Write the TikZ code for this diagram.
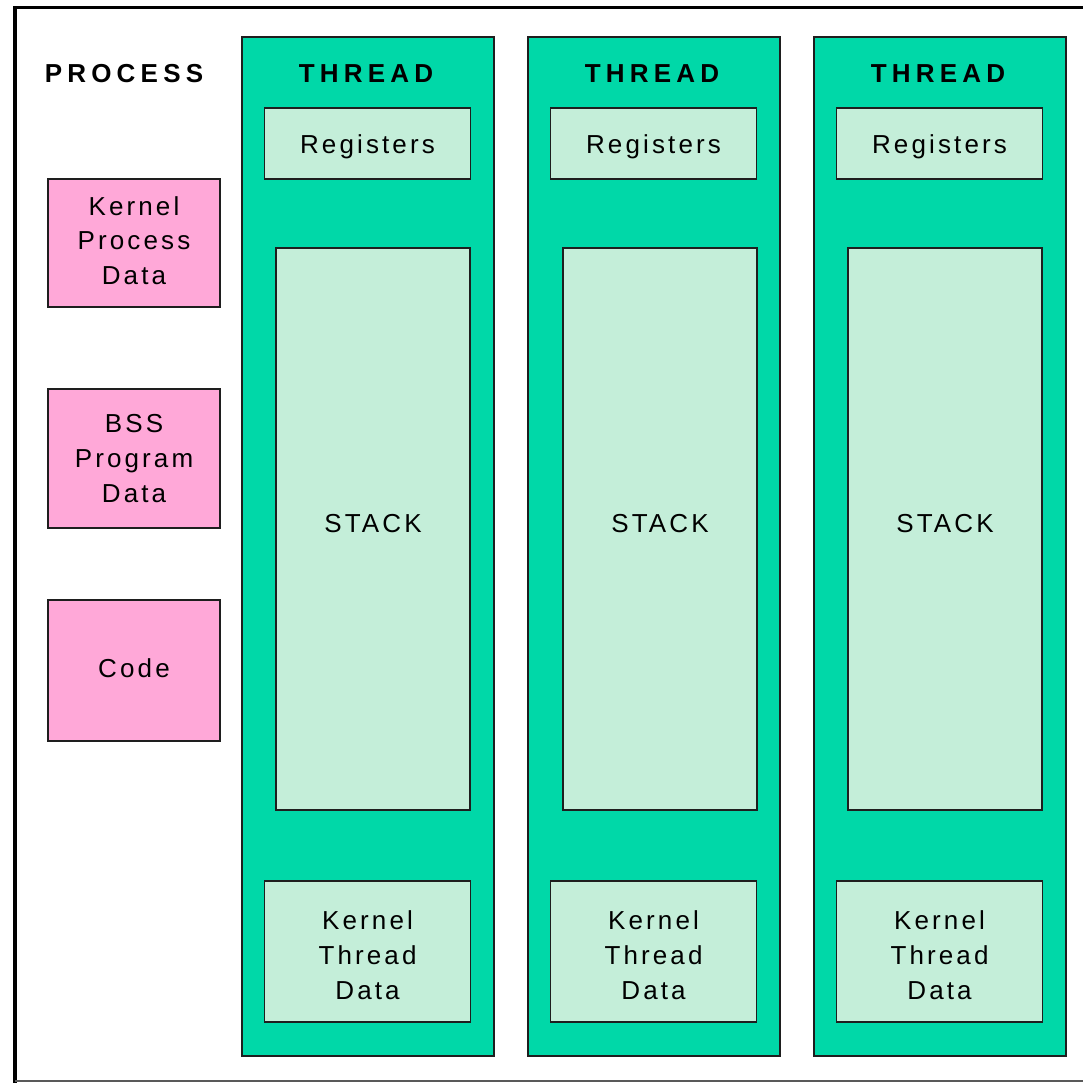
\documentclass[tikz,border=0pt]{standalone}
\usepackage{fontspec}
\setmainfont{Liberation Sans}
\newfontfamily\boxfont[LetterSpace=12]{Liberation Sans}
\newfontfamily\headfont[LetterSpace=20]{Liberation Sans Bold}
\definecolor{thrgreen}{HTML}{00D8A8}
\definecolor{palegreen}{HTML}{C4EED9}
\definecolor{procpink}{HTML}{FFA8D8}
\definecolor{edge}{HTML}{1E1E1E}
\newcommand{\shifted}[2]{\raisebox{#1}[\height][\depth]{#2}}
\newcommand{\lines}[2]{\shifted{#1}{\begin{tabular}{@{}c@{}}#2\end{tabular}}}
\tikzset{
  base/.style={draw=edge, line width=1.3pt, inner sep=0pt, anchor=center, align=center,
    font={\boxfont\fontsize{26}{35}\selectfont}},
  pinkbox/.style={base, fill=procpink},
  threadbox/.style={base, fill=thrgreen},
  partbox/.style={base, fill=palegreen},
  heading/.style={inner sep=0pt, anchor=center, font={\headfont\fontsize{26}{28}\selectfont}}
}
\begin{document}
\begin{tikzpicture}[x=1pt,y=-1pt]
\useasboundingbox (0,0) rectangle (1083,1083);
\fill[white] (0,0) rectangle (1083,1083);
% outer frame
\coordinate (bl) at (15,1081);
\coordinate (br) at (1083,1081);
\draw[line width=3pt, black] (1083,8) -- (13.5,8);
\draw[line width=4pt, black] (15,6.5) -- (15,1083);
\draw[line width=1.5pt, gray!70!black] (bl) -- (br);

% process column
\node[heading] (proc) at (124,74) {PROCESS};
\node[pinkbox, minimum width=172pt, minimum height=128pt] (kpd) at (134,243) {\lines{0pt}{Kernel\\Process\\Data}};
\node[pinkbox, minimum width=172pt, minimum height=139pt] (bss) at (134,458.5) {\lines{-2pt}{BSS\\Program\\Data}};
\node[pinkbox, minimum width=172pt, minimum height=141pt] (code) at (134,670.5) {\shifted{2pt}{Code}};

% threads
\foreach \i/\tx/\rx/\sx in {1/368/367.5/373, 2/654/653.5/660, 3/940/939.5/945}{
  \node[threadbox, minimum width=252pt, minimum height=1019pt] (thr\i) at (\tx,546.5) {};
  \node[heading] (thrlab\i) at (\tx-2,74) {THREAD};
  \node[partbox, minimum width=206pt, minimum height=71pt] (reg\i) at (\rx,143.5) {\shifted{-3pt}{Registers}};
  \node[partbox, minimum width=194pt, minimum height=562pt] (stack\i) at (\sx,529) {\shifted{5pt}{STACK}};
  \node[partbox, minimum width=206pt, minimum height=141pt] (ktd\i) at (\rx,951.5) {\lines{-6pt}{Kernel\\Thread\\Data}};
}
\end{tikzpicture}
\end{document}
